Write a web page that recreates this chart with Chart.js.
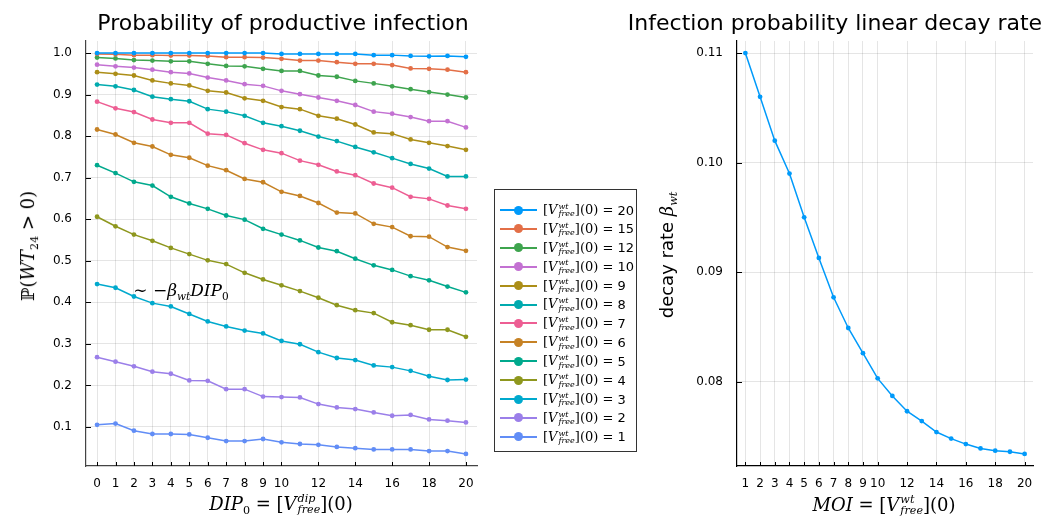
<!DOCTYPE html>
<html>
<head>
<meta charset="utf-8">
<script src="https://cdn.jsdelivr.net/npm/chart.js@4.4.1/dist/chart.umd.min.js"></script>
<style>
  body { margin: 0; background: #fff; width: 1058px; height: 520px; position: relative; overflow: hidden;
         font-family: "DejaVu Sans", sans-serif; color: #000; }
  canvas { position: absolute; top: 0; }
  .title { position: absolute; top: 10px; font-size: 22px; white-space: nowrap; transform: translateX(-50%); }
  .lab { position: absolute; white-space: nowrap; font-size: 18px; }
  .m { font-family: "DejaVu Serif", "Liberation Serif", serif; }
  .m i { font-style: italic; }
  .ss { display: inline-flex; flex-direction: column; font-size: 0.62em; line-height: 0.95; vertical-align: middle; margin-left: 1px; }
  .sub { font-size: 0.62em; vertical-align: -0.35em; }
  #legend { position: absolute; left: 494px; top: 189px; width: 141px; height: 261px; border: 1px solid #333; background: #fff; }
  .row { position: absolute; left: 0; height: 19px; display: flex; align-items: center; font-size: 13px; white-space: nowrap; }
  .sw { position: relative; width: 37px; height: 2px; margin-left: 5px; margin-right: 6px; }
  .sw b { position: absolute; left: 14px; top: -3.5px; width: 9px; height: 9px; border-radius: 50%; }
</style>
</head>
<body>
<canvas id="left" width="490" height="520" style="left:0"></canvas>
<canvas id="right" width="408" height="520" style="left:650px"></canvas>

<div class="title" style="left:283px">Probability of productive infection</div>
<div class="title" style="left:835px">Infection probability linear decay rate</div>

<div class="lab m" style="left:29px; top:246px; transform: translate(-50%,-50%) rotate(-90deg)">ℙ(<i>WT</i><span class="sub">24</span> &gt; 0)</div>
<div class="lab m" style="left:281px; top:505px; transform: translate(-50%,-50%)"><i>DIP</i><span class="sub">0</span> = [<i>V</i><span class="ss"><i>dip</i><i>free</i></span>](0)</div>
<div class="lab m" style="left:181px; top:291px; font-size:17px; transform: translate(-50%,-50%)">∼ −<i>β</i><span class="sub"><i>wt</i></span><i>DIP</i><span class="sub">0</span></div>

<div class="lab" style="left:668px; top:255px; transform: translate(-50%,-50%) rotate(-90deg)">decay rate <span class="m"><i>β</i><span class="sub"><i>wt</i></span></span></div>
<div class="lab m" style="left:884px; top:505px; transform: translate(-50%,-50%)"><i>MOI</i> = [<i>V</i><span class="ss"><i>wt</i><i>free</i></span>](0)</div>

<div id="legend"></div>

<script>
// x values
var dipValues = [0, 1, 2, 3, 4, 5, 6, 7, 8, 9, 10, 11, 12, 13, 14, 15, 16, 17, 18, 19, 20];
var dipTicks = [0, 1, 2, 3, 4, 5, 6, 7, 8, 9, 10, 12, 14, 16, 18, 20];
var moiValues = [1, 2, 3, 4, 5, 6, 7, 8, 9, 10, 11, 12, 13, 14, 15, 16, 17, 18, 19, 20];
var moiTicks = [1, 2, 3, 4, 5, 6, 7, 8, 9, 10, 12, 14, 16, 18, 20];
var probTicks = [0.1, 0.2, 0.3, 0.4, 0.5, 0.6, 0.7, 0.8, 0.9, 1.0];
var decayTicks = [0.08, 0.09, 0.10, 0.11];

// P(WT_24 > 0) per initial wild-type dose
var moiLabels = [20, 15, 12, 10, 9, 8, 7, 6, 5, 4, 3, 2, 1];
var p20 = [1.000, 1.000, 1.000, 1.000, 1.000, 1.000, 1.000, 1.000, 1.000, 1.000, 0.998, 0.998, 0.998, 0.998, 0.998, 0.995, 0.995, 0.993, 0.992, 0.993, 0.991];
var p15 = [0.998, 0.997, 0.995, 0.995, 0.994, 0.994, 0.993, 0.990, 0.990, 0.989, 0.986, 0.982, 0.982, 0.978, 0.974, 0.974, 0.971, 0.963, 0.962, 0.960, 0.954];
var p12 = [0.989, 0.987, 0.983, 0.982, 0.980, 0.980, 0.974, 0.969, 0.968, 0.962, 0.957, 0.957, 0.946, 0.943, 0.933, 0.927, 0.920, 0.913, 0.906, 0.900, 0.893];
var p10 = [0.972, 0.968, 0.965, 0.960, 0.954, 0.951, 0.941, 0.934, 0.925, 0.921, 0.909, 0.901, 0.893, 0.885, 0.875, 0.859, 0.854, 0.846, 0.836, 0.836, 0.821];
var p9  = [0.954, 0.950, 0.946, 0.934, 0.927, 0.922, 0.909, 0.905, 0.891, 0.885, 0.870, 0.865, 0.849, 0.842, 0.828, 0.809, 0.806, 0.792, 0.784, 0.776, 0.767];
var p8  = [0.924, 0.920, 0.911, 0.895, 0.889, 0.884, 0.865, 0.859, 0.849, 0.832, 0.824, 0.813, 0.799, 0.788, 0.774, 0.761, 0.747, 0.733, 0.722, 0.703, 0.703];
var p7  = [0.883, 0.867, 0.858, 0.840, 0.832, 0.832, 0.806, 0.803, 0.783, 0.767, 0.759, 0.741, 0.731, 0.715, 0.706, 0.686, 0.676, 0.654, 0.649, 0.633, 0.625];
var p6  = [0.816, 0.804, 0.784, 0.775, 0.755, 0.748, 0.729, 0.718, 0.697, 0.689, 0.666, 0.656, 0.639, 0.616, 0.614, 0.589, 0.581, 0.559, 0.558, 0.533, 0.524];
var p5  = [0.730, 0.711, 0.690, 0.681, 0.654, 0.638, 0.625, 0.609, 0.599, 0.577, 0.563, 0.549, 0.532, 0.523, 0.505, 0.489, 0.478, 0.463, 0.453, 0.438, 0.424];
var p4  = [0.606, 0.583, 0.563, 0.548, 0.531, 0.516, 0.501, 0.492, 0.471, 0.455, 0.441, 0.427, 0.411, 0.393, 0.381, 0.374, 0.352, 0.345, 0.334, 0.334, 0.317];
var p3  = [0.444, 0.435, 0.414, 0.398, 0.390, 0.372, 0.354, 0.342, 0.332, 0.325, 0.307, 0.299, 0.280, 0.266, 0.261, 0.248, 0.244, 0.235, 0.222, 0.213, 0.214];
var p2  = [0.268, 0.257, 0.246, 0.233, 0.228, 0.212, 0.211, 0.191, 0.191, 0.173, 0.172, 0.171, 0.155, 0.147, 0.143, 0.135, 0.127, 0.129, 0.118, 0.115, 0.111];
var p1  = [0.105, 0.108, 0.091, 0.083, 0.083, 0.082, 0.074, 0.066, 0.066, 0.071, 0.063, 0.059, 0.057, 0.052, 0.049, 0.046, 0.046, 0.046, 0.042, 0.042, 0.035];
var probSeries = [p20, p15, p12, p10, p9, p8, p7, p6, p5, p4, p3, p2, p1];

// decay rate beta_wt vs MOI
var decayRate = [0.1100, 0.1060, 0.1020, 0.0990, 0.0950, 0.0913, 0.0877, 0.0849, 0.0826, 0.0803, 0.0787, 0.0773, 0.0764, 0.0754, 0.0748, 0.0743, 0.0739, 0.0737, 0.0736, 0.0734];

var colors = ["#009AFA", "#E36F47", "#3EA44E", "#C371D2", "#AC8E18", "#00AAAE", "#ED5E93",
              "#C68225", "#00A98D", "#8E971E", "#00A9CD", "#9B7FE9", "#618DF6"];

Chart.defaults.font.family = '"DejaVu Sans", sans-serif';
Chart.defaults.font.size = 12;
Chart.defaults.color = '#000';

// Plots.jl-style inward tick marks
var innerTicks = {
    id: 'innerTicks',
    afterDraw: function (chart) {
        var ctx = chart.ctx, a = chart.chartArea;
        var xs = chart.scales.x, ys = chart.scales.y;
        ctx.save();
        ctx.strokeStyle = '#000';
        ctx.lineWidth = 1;
        ctx.beginPath();
        xs.ticks.forEach(function (t) {
            var px = Math.round(xs.getPixelForValue(t.value)) + 0.5;
            ctx.moveTo(px, a.bottom);
            ctx.lineTo(px, a.bottom - 4);
        });
        ys.ticks.forEach(function (t) {
            var py = Math.round(ys.getPixelForValue(t.value)) + 0.5;
            ctx.moveTo(a.left, py);
            ctx.lineTo(a.left + 5, py);
        });
        ctx.stroke();
        ctx.restore();
    }
};

function toPoints(xs, ys) {
    return xs.map(function (x, i) { return {x: x, y: ys[i]}; });
}

function makeScales(xmin, xmax, xticks, ymin, ymax, yticks, ydigits, yWidth, axisColor) {
    return {
        x: {
            type: 'linear', min: xmin, max: xmax,
            afterBuildTicks: function (s) { s.ticks = xticks.map(function (v) { return {value: v}; }); },
            afterFit: function (s) { s.height = 28; },
            ticks: { padding: 11, maxRotation: 0, autoSkip: false, callback: function (v) { return String(v); } },
            grid: { color: 'rgba(0,0,0,0.1)', drawTicks: false },
            border: { color: axisColor, width: 1.2 }
        },
        y: {
            type: 'linear', min: ymin, max: ymax,
            afterBuildTicks: function (s) { s.ticks = yticks.map(function (v) { return {value: v}; }); },
            afterFit: function (s) { s.width = yWidth; },
            ticks: { padding: 14, callback: function (v) { return v.toFixed(ydigits); } },
            grid: { color: 'rgba(0,0,0,0.1)', drawTicks: false },
            border: { color: axisColor, width: 1.2 }
        }
    };
}

var leftDatasets = [];
for (var i = 0; i < probSeries.length; i++) {
    leftDatasets.push({
        label: '[V](0) = ' + moiLabels[i],
        data: toPoints(dipValues, probSeries[i]),
        borderColor: colors[i],
        backgroundColor: colors[i],
        borderWidth: 1.5,
        pointRadius: 2.4,
        pointBorderWidth: 0,
        tension: 0
    });
}

new Chart(document.getElementById('left').getContext('2d'), {
    type: 'line',
    data: { datasets: leftDatasets },
    options: {
        responsive: false, animation: false,
        layout: { padding: { left: 0, top: 41, right: 13, bottom: 26 } },
        plugins: { legend: { display: false }, tooltip: { enabled: false } },
        scales: makeScales(-0.6, 20.6, dipTicks, 0.006, 1.029, probTicks, 1, 86, '#444')
    },
    plugins: [innerTicks]
});

new Chart(document.getElementById('right').getContext('2d'), {
    type: 'line',
    data: {
        datasets: [{
            data: toPoints(moiValues, decayRate),
            borderColor: colors[0],
            backgroundColor: colors[0],
            borderWidth: 1.5,
            pointRadius: 2.4,
            pointBorderWidth: 0,
            tension: 0
        }]
    },
    options: {
        responsive: false, animation: false,
        layout: { padding: { left: 0, top: 41, right: 25, bottom: 26 } },
        plugins: { legend: { display: false }, tooltip: { enabled: false } },
        scales: makeScales(0.43, 20.57, moiTicks, 0.0723, 0.1111, decayTicks, 2, 87, '#000')
    },
    plugins: [innerTicks]
});

// legend with math labels
var legend = document.getElementById('legend');
moiLabels.forEach(function (n, i) {
    var row = document.createElement('div');
    row.className = 'row';
    row.style.top = (10.5 + i * 18.9) + 'px';
    row.innerHTML = '<span class="sw" style="background:' + colors[i] + '"><b style="background:' + colors[i] + '"></b></span>' +
        '<span class="m">[<i>V</i><span class="ss"><i>wt</i><i>free</i></span>](0) = </span>&nbsp;' + n;
    legend.appendChild(row);
});
</script>
</body>
</html>
